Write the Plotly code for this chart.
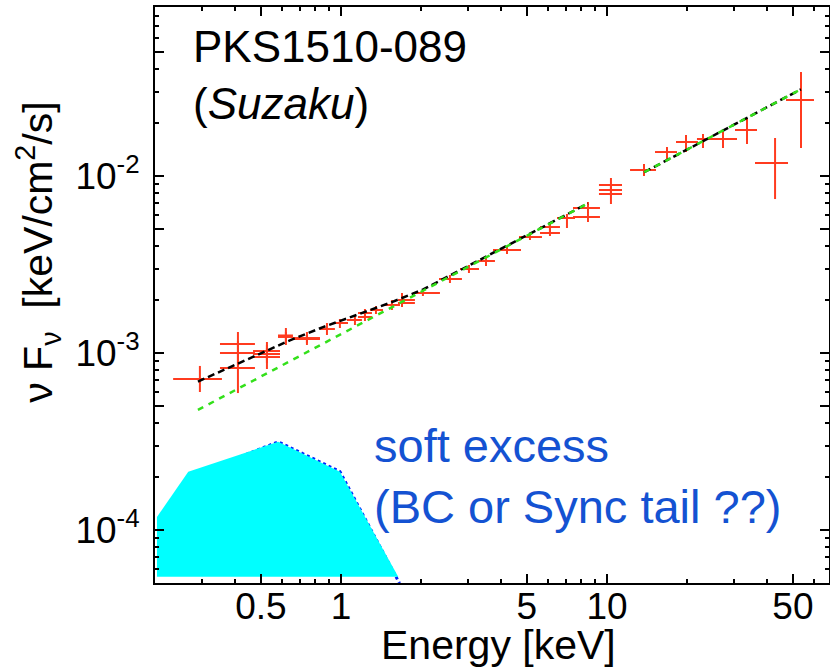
import plotly.graph_objects as go
import numpy as np

# ---- data points (Suzaku XIS + HXD-PIN) ----
energy = [0.295, 0.410, 0.410, 0.410, 0.527, 0.527, 0.527, 0.621, 0.621, 0.745, 0.745,
          0.886, 0.991, 1.129, 1.231, 1.231, 1.354, 1.555, 1.696, 1.696, 2.033, 2.569,
          3.028, 3.509, 4.209, 5.135, 6.105, 6.105, 7.073, 8.483, 8.483, 10.35, 10.35,
          10.35, 13.78, 16.81, 19.82, 22.96, 27.30, 33.60, 42.84, 53.62]
e_lo = [0.234, 0.351, 0.351, 0.351, 0.467, 0.467, 0.467, 0.580, 0.580, 0.660, 0.660,
        0.834, 0.933, 1.053, 1.159, 1.159, 1.285, 1.464, 1.638, 1.638, 1.865, 2.336,
        2.802, 3.273, 3.728, 4.670, 5.600, 5.600, 6.487, 7.452, 7.452, 9.33, 9.33,
        9.33, 12.21, 15.15, 18.17, 21.79, 24.39, 30.29, 36.01, 47.10]
e_hi = [0.357, 0.475, 0.475, 0.475, 0.590, 0.590, 0.590, 0.660, 0.660, 0.834, 0.834,
        0.949, 1.063, 1.199, 1.308, 1.308, 1.439, 1.667, 1.897, 1.897, 2.356, 2.850,
        3.303, 3.793, 4.751, 5.697, 6.657, 6.657, 7.582, 9.412, 9.412, 11.39, 11.39,
        11.39, 15.29, 18.33, 21.98, 24.39, 30.82, 36.64, 47.92, 60.00]
flux = [7.13e-4, 1.124e-3, 1.00e-3, 8.23e-4, 1.026e-3, 9.87e-4, 9.49e-4, 1.256e-3, 1.232e-3,
        1.215e-3, 1.200e-3, 1.366e-3, 1.477e-3, 1.536e-3, 1.682e-3, 1.597e-3, 1.749e-3,
        1.867e-3, 1.993e-3, 1.917e-3, 2.183e-3, 2.618e-3, 2.983e-3, 3.309e-3, 3.819e-3,
        4.521e-3, 5.149e-3, 4.764e-3, 5.790e-3, 6.594e-3, 5.866e-3, 8.896e-3, 8.334e-3,
        7.912e-3, 1.081e-2, 1.366e-2, 1.556e-2, 1.618e-2, 1.618e-2, 1.819e-2, 1.184e-2,
        2.687e-2]
f_lo = [6.02e-4, 9.62e-4, 8.45e-4, 5.94e-4, 9.13e-4, 8.78e-4, 8.12e-4, 1.110e-3, 1.139e-3,
        1.139e-3, 1.110e-3, 1.264e-3, 1.384e-3, 1.439e-3, 1.597e-3, 1.516e-3, 1.661e-3,
        1.749e-3, 1.867e-3, 1.819e-3, 2.099e-3, 2.486e-3, 2.831e-3, 3.101e-3, 3.625e-3,
        4.348e-3, 4.826e-3, 4.581e-3, 5.083e-3, 6.180e-3, 5.496e-3, 8.334e-3, 7.709e-3,
        6.947e-3, 1.000e-2, 1.215e-2, 1.366e-2, 1.439e-2, 1.439e-2, 1.516e-2, 7.41e-3,
        1.439e-2]
f_hi = [8.45e-4, 1.314e-3, 1.169e-3, 9.62e-4, 1.154e-3, 1.110e-3, 1.067e-3, 1.384e-3, 1.314e-3,
        1.314e-3, 1.264e-3, 1.477e-3, 1.556e-3, 1.618e-3, 1.772e-3, 1.682e-3, 1.843e-3,
        1.993e-3, 2.183e-3, 2.099e-3, 2.270e-3, 2.758e-3, 3.142e-3, 3.532e-3, 3.971e-3,
        4.701e-3, 5.496e-3, 5.083e-3, 6.100e-3, 7.130e-3, 6.260e-3, 9.743e-3, 9.012e-3,
        8.555e-3, 1.169e-2, 1.458e-2, 1.705e-2, 1.727e-2, 1.772e-2, 2.127e-2, 1.639e-2,
        3.868e-2]

# ---- model curves ----
total_e1 = [0.29, 0.417, 0.527, 0.643, 0.856, 1.149, 1.528, 2.03, 8.48]
total_f1 = [6.9e-4, 8.78e-4, 1.026e-3, 1.18e-3, 1.40e-3, 1.64e-3, 1.92e-3, 2.28e-3, 7.0e-3]
total_e2 = [13.8, 53.6]
total_f2 = [1.05e-2, 3.09e-2]
pl_e1 = [0.29, 8.48]
pl_f1 = [4.77e-4, 7.0e-3]
pl_e2 = [13.8, 53.6]
pl_f2 = [1.05e-2, 3.09e-2]

# soft-excess component (shaded) and its model edge
excess_e = [0.2034, 0.2667, 0.581, 0.991, 1.642, 0.2034]
excess_f = [1.184e-4, 2.135e-4, 3.153e-4, 2.135e-4, 5.45e-5, 5.45e-5]
excess_line_e = [0.42, 0.581, 0.991, 1.66]
excess_line_f = [2.6e-4, 3.15e-4, 2.14e-4, 5.0e-5]

x_major = [0.5, 1, 5, 10, 50]
x_major_text = ["0.5", "1", "5", "10", "50"]
x_minor = [0.2, 0.3, 0.4, 0.6, 0.7, 0.8, 0.9, 2, 3, 4, 6, 7, 8, 9, 20, 30, 40, 60]
y_major = [1e-4, 5e-4, 1e-3, 5e-3, 1e-2, 5e-2]
y_major_text = ["10<sup>-4</sup>", "", "10<sup>-3</sup>", "", "10<sup>-2</sup>", ""]
y_minor = [6e-5, 7e-5, 8e-5, 9e-5, 2e-4, 3e-4, 4e-4, 6e-4, 7e-4, 8e-4, 9e-4,
           2e-3, 3e-3, 4e-3, 6e-3, 7e-3, 8e-3, 9e-3, 2e-2, 3e-2, 4e-2, 6e-2, 7e-2, 8e-2]

FONT = "Liberation Sans, Arial, sans-serif"
RED = "#ff3b1f"

energy_a = np.array(energy)
flux_a = np.array(flux)

fig = go.Figure()

fig.add_trace(go.Scatter(x=excess_line_e, y=excess_line_f, mode="lines",
                         line=dict(color="#0022ff", width=3, dash="dot")))
fig.add_trace(go.Scatter(x=excess_e, y=excess_f, mode="lines", fill="toself",
                         fillcolor="#00ffff", line=dict(width=0), hoverinfo="skip"))

fig.add_trace(go.Scatter(
    x=energy, y=flux, mode="markers",
    marker=dict(size=1, color=RED),
    error_x=dict(type="data", symmetric=False,
                 array=list(np.array(e_hi) - energy_a),
                 arrayminus=list(energy_a - np.array(e_lo)),
                 color=RED, thickness=2, width=0),
    error_y=dict(type="data", symmetric=False,
                 array=list(np.array(f_hi) - flux_a),
                 arrayminus=list(flux_a - np.array(f_lo)),
                 color=RED, thickness=2, width=0),
))

for ex, fx in [(total_e1, total_f1), (total_e2, total_f2)]:
    fig.add_trace(go.Scatter(x=ex, y=fx, mode="lines",
                             line=dict(color="black", width=2.5, dash="7px,4px")))
for ex, fx in [(pl_e1, pl_f1), (pl_e2, pl_f2)]:
    fig.add_trace(go.Scatter(x=ex, y=fx, mode="lines",
                             line=dict(color="#33e01a", width=2.5, dash="6px,6px")))

axis_common = dict(
    type="log", showgrid=False, zeroline=False,
    showline=True, linecolor="black", linewidth=2, mirror="allticks",
    ticks="inside", ticklen=9, tickwidth=1.5, tickcolor="black",
    tickfont=dict(family=FONT, size=37, color="black"),
    automargin=False,
)

fig.update_layout(
    width=830, height=667,
    margin=dict(l=155, r=1, t=7, b=84),
    paper_bgcolor="white", plot_bgcolor="white",
    showlegend=False,
    xaxis=dict(axis_common,
               range=[np.log10(0.2), 1.8346],
               tickmode="array", tickvals=x_major, ticktext=x_major_text,
               ticklabelstandoff=-10,
               minor=dict(tickmode="array", tickvals=x_minor, ticks="inside",
                          ticklen=4, tickwidth=1.5, tickcolor="black")),
    yaxis=dict(axis_common,
               range=[-4.2994, -1.0452],
               tickmode="array", tickvals=y_major, ticktext=y_major_text,
               ticklabelstandoff=6,
               minor=dict(tickmode="array", tickvals=y_minor, ticks="inside",
                          ticklen=4, tickwidth=1.5, tickcolor="black")),
)

fig.add_annotation(xref="paper", yref="paper", x=0.51, y=-0.108,
                   text="Energy [keV]", showarrow=False,
                   xanchor="center", yanchor="middle",
                   font=dict(family=FONT, size=41, color="black"))
fig.add_annotation(xref="paper", yref="paper", x=-0.1736, y=0.575,
                   text="ν F<sub>ν</sub>  [keV/cm<sup>2</sup>/s]", textangle=-90,
                   showarrow=False, xanchor="center", yanchor="middle",
                   font=dict(family=FONT, size=41, color="black"))
fig.add_annotation(xref="paper", yref="paper", x=0.054, y=0.882,
                   text="PKS1510-089<br>(<i>Suzaku</i>)", align="left",
                   showarrow=False, xanchor="left", yanchor="middle",
                   font=dict(family=FONT, size=44, color="black"))
fig.add_annotation(xref="paper", yref="paper", x=0.322, y=0.186,
                   text="soft excess<br>(BC or Sync tail ??)", align="left",
                   showarrow=False, xanchor="left", yanchor="middle",
                   font=dict(family=FONT, size=47, color="#1452d2"))

fig.write_html("out.html")
